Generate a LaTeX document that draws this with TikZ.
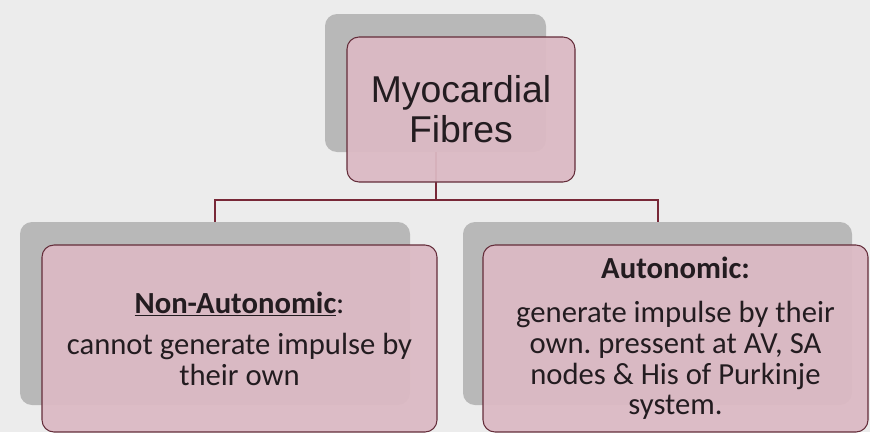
\documentclass[tikz,border=0pt]{standalone}
\usepackage{fontspec}
\setmainfont{Carlito}
\newfontfamily\titlefont{Liberation Sans}
\usetikzlibrary{positioning}
\definecolor{bgcol}{RGB}{236,236,236}
\definecolor{pinkfill}{RGB}{220,186,196}
\definecolor{edgecol}{RGB}{100,45,58}
\definecolor{linecol}{RGB}{120,40,55}
\definecolor{backgray}{RGB}{184,184,184}
\definecolor{textcol}{RGB}{35,28,32}
\frenchspacing

\begin{document}
\begin{tikzpicture}[x=0.75pt, y=-0.75pt,
        back/.style={rounded corners=9pt, fill=backgray, inner sep=0pt},
        front/.style={rounded corners=9pt, draw=edgecol, line width=0.8pt, fill=pinkfill, fill opacity=0.94, text opacity=1, text=textcol, align=center, inner sep=0pt},
        link/.style={draw=linecol, line width=1.5pt},
        body/.style={font=\fontsize{23}{23}\selectfont}]
        \fill[bgcol] (0,0) rectangle (870,432);
        \useasboundingbox (0,0) rectangle (870,432);

        % shadow boxes
        \node[back, minimum width=165.75pt, minimum height=103.5pt] (MFback) at (435.5,83) {};
        \node[back, minimum width=292.5pt, minimum height=137.25pt] (NAback) at (215,313.5) {};
        \node[back, minimum width=291.75pt, minimum height=137.25pt] (Aback) at (657.5,313.5) {};

        % connectors
        \coordinate (BUS) at (435.5,200);
        \path[link] (MFback.south) -- (BUS)
              (NAback.north) |- (BUS) -| (Aback.north);

        % front boxes
        \node[front, minimum width=171pt, minimum height=108.75pt, font=\titlefont\fontsize{28}{30}\selectfont] (MF) at (461,109.5) {Myocardial\\Fibres};
        \node[front, body, minimum width=296.25pt, minimum height=140.25pt] (NA) at (239.5,338.5)
              {\textbf{\underline{Non-Autonomic}}:\\[8pt] cannot generate impulse by\\ their own};
        \node[front, body, minimum width=288.75pt, minimum height=140.25pt] (A) at (675.5,338.5)
              {\textbf{Autonomic:}\\[10pt] generate impulse by their\\ own. pressent at AV, SA\\ nodes \& His of Purkinje\\ system.};
\end{tikzpicture}
\end{document}
